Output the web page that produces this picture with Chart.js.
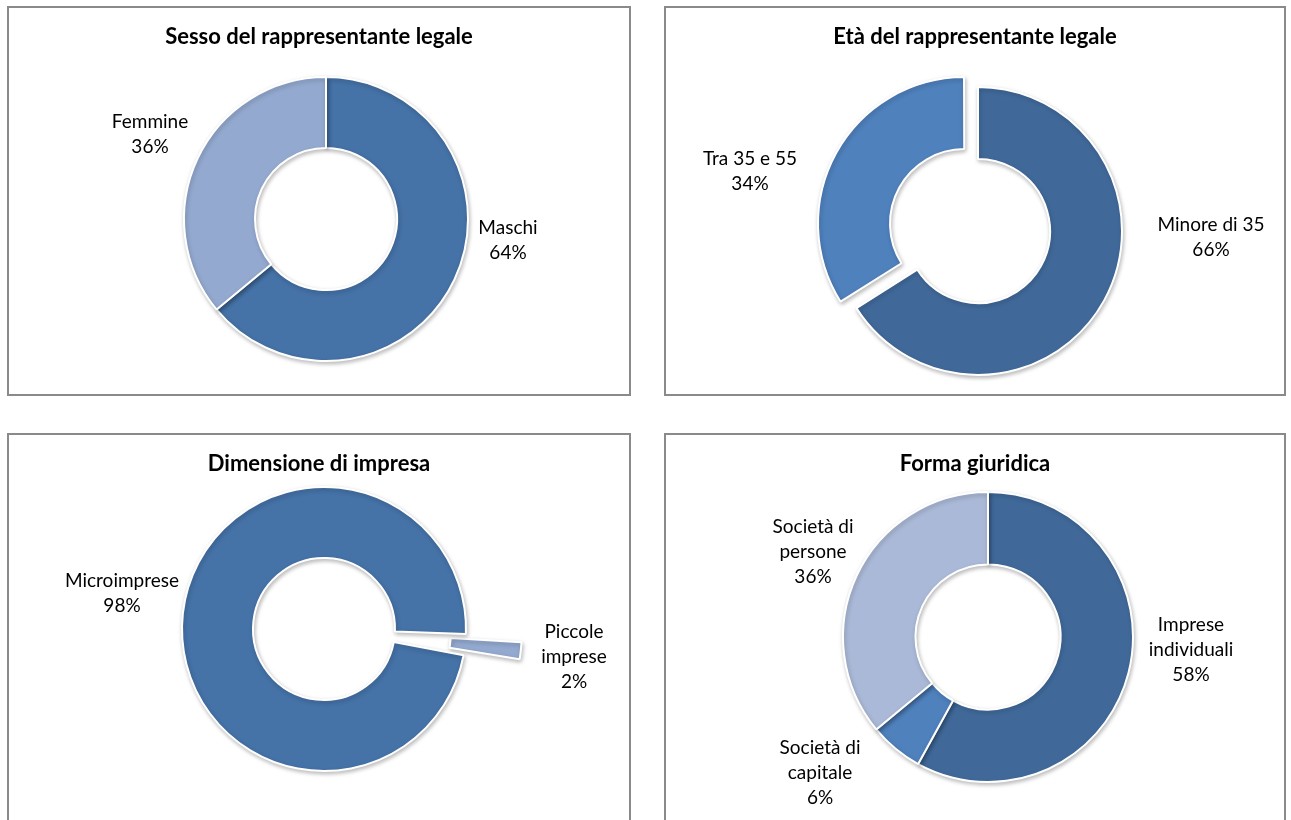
<!DOCTYPE html>
<html>
<head>
<meta charset="utf-8">
<script src="https://cdn.jsdelivr.net/npm/chart.js@4.4.0/dist/chart.umd.min.js"></script>
<style>
  html, body { margin: 0; padding: 0; background: #fff; overflow: hidden; }
  body { width: 1291px; height: 820px; position: relative; font-family: Lato, sans-serif; }
  .panel { position: absolute; border: 2px solid #8a8a8a; box-sizing: content-box; background: #fff; }
  .panel canvas { display: block; }
</style>
</head>
<body>
<div class="panel" style="left:7px;top:6px;width:620px;height:386px"><canvas id="sesso" width="620" height="386"></canvas></div>
<div class="panel" style="left:664px;top:6px;width:618px;height:386px"><canvas id="eta" width="618" height="386"></canvas></div>
<div class="panel" style="left:7px;top:433px;width:620px;height:386px"><canvas id="dimensione" width="620" height="386"></canvas></div>
<div class="panel" style="left:664px;top:433px;width:618px;height:386px"><canvas id="forma" width="618" height="386"></canvas></div>

<script>
// --- data (percent shares) ---
const sessoLabels = [["Maschi"], ["Femmine"]];
const sessoValues = [64, 36];

const etaLabels = [["Minore di 35"], ["Tra 35 e 55"]];
const etaValues = [66, 34];

const dimLabels = [["Piccole", "imprese"], ["Microimprese"]];
const dimValues = [2.4, 97.6];

const formaLabels = [["Imprese", "individuali"], ["Società di", "capitale"], ["Società di", "persone"]];
const formaValues = [58, 6, 36];

const dark = "#40699a";
const mid = "#4572a7";
const bright = "#4f81bd";
const pale = "#93a9cf";
const paler = "#aab9d7";

// soft drop shadow under the rings, like the office original
const shade = {
  id: "shade",
  beforeDatasetsDraw(chart) {
    const c = chart.ctx;
    c.save();
    c.shadowColor = "rgba(0,0,0,0.25)";
    c.shadowBlur = 4;
    c.shadowOffsetX = 1;
    c.shadowOffsetY = 2;
  },
  afterDatasetsDraw(chart) {
    chart.ctx.restore();
  }
};

// title + slice labels ("name / nn%"), placed relative to the ring centre
const panelText = {
  id: "panelText",
  afterDraw(chart, args, opts) {
    const ctx = chart.ctx;
    const meta = chart.getDatasetMeta(0);
    const values = chart.data.datasets[0].data;
    const total = values.reduce((a, b) => a + b, 0);
    ctx.save();
    ctx.fillStyle = "#000";
    ctx.textAlign = "center";
    ctx.textBaseline = "middle";
    ctx.font = "bold 22px Lato";
    ctx.fillText(opts.title, chart.width / 2, opts.titleY);
    ctx.font = "19px Lato";
    meta.data.forEach((arc, i) => {
      const lines = opts.names[i].concat(Math.round(values[i] / total * 100) + "%");
      const [dx, dy] = opts.spots[i];
      const top = arc.y + dy - (lines.length - 1) * 12.5;
      lines.forEach((t, j) => ctx.fillText(t, arc.x + dx, top + j * 25));
    });
    ctx.restore();
  }
};

function ring(id, cfg) {
  const canvas = document.getElementById(id);
  const W = canvas.width, H = canvas.height;
  return new Chart(canvas, {
    type: "doughnut",
    data: {
      labels: cfg.names.map(n => n.join(" ")),
      datasets: [{
        data: cfg.values,
        backgroundColor: cfg.colors,
        borderColor: "#fff",
        borderWidth: 2,
        offset: cfg.offset || 0,
        hoverOffset: 0,
        clip: false
      }]
    },
    options: {
      responsive: false,
      animation: false,
      radius: cfg.radius,
      cutout: "50%",
      rotation: cfg.rotation || 0,
      layout: {
        padding: {
          left: cfg.cx - 100,
          right: W - cfg.cx - 100,
          top: cfg.cy - 100,
          bottom: H - cfg.cy - 100
        }
      },
      plugins: {
        legend: { display: false },
        tooltip: { enabled: false },
        panelText: { title: cfg.title, titleY: 29, names: cfg.names, spots: cfg.spots }
      }
    },
    plugins: [shade, panelText]
  });
}

ring("sesso", {
  title: "Sesso del rappresentante legale",
  names: sessoLabels, values: sessoValues, colors: [mid, pale],
  cx: 317, cy: 211, radius: 142,
  spots: [[182, 21], [-176, -85]]
});

ring("eta", {
  title: "Età del rappresentante legale",
  names: etaLabels, values: etaValues, colors: [dark, bright],
  offset: [0, 62],
  cx: 312, cy: 223, radius: 144,
  spots: [[233, 6], [-228, -60]]
});

ring("dimensione", {
  title: "Dimensione di impresa",
  names: dimLabels, values: dimValues, colors: [pale, mid],
  offset: [121, 0], rotation: 92,
  cx: 315, cy: 194, radius: 142,
  spots: [[250, 28], [-202, -36]]
});

ring("forma", {
  title: "Forma giuridica",
  names: formaLabels, values: formaValues, colors: [dark, bright, paler],
  cx: 322, cy: 202, radius: 145,
  spots: [[203, 13], [-168, 136], [-175, -85]]
});
</script>
</body>
</html>
